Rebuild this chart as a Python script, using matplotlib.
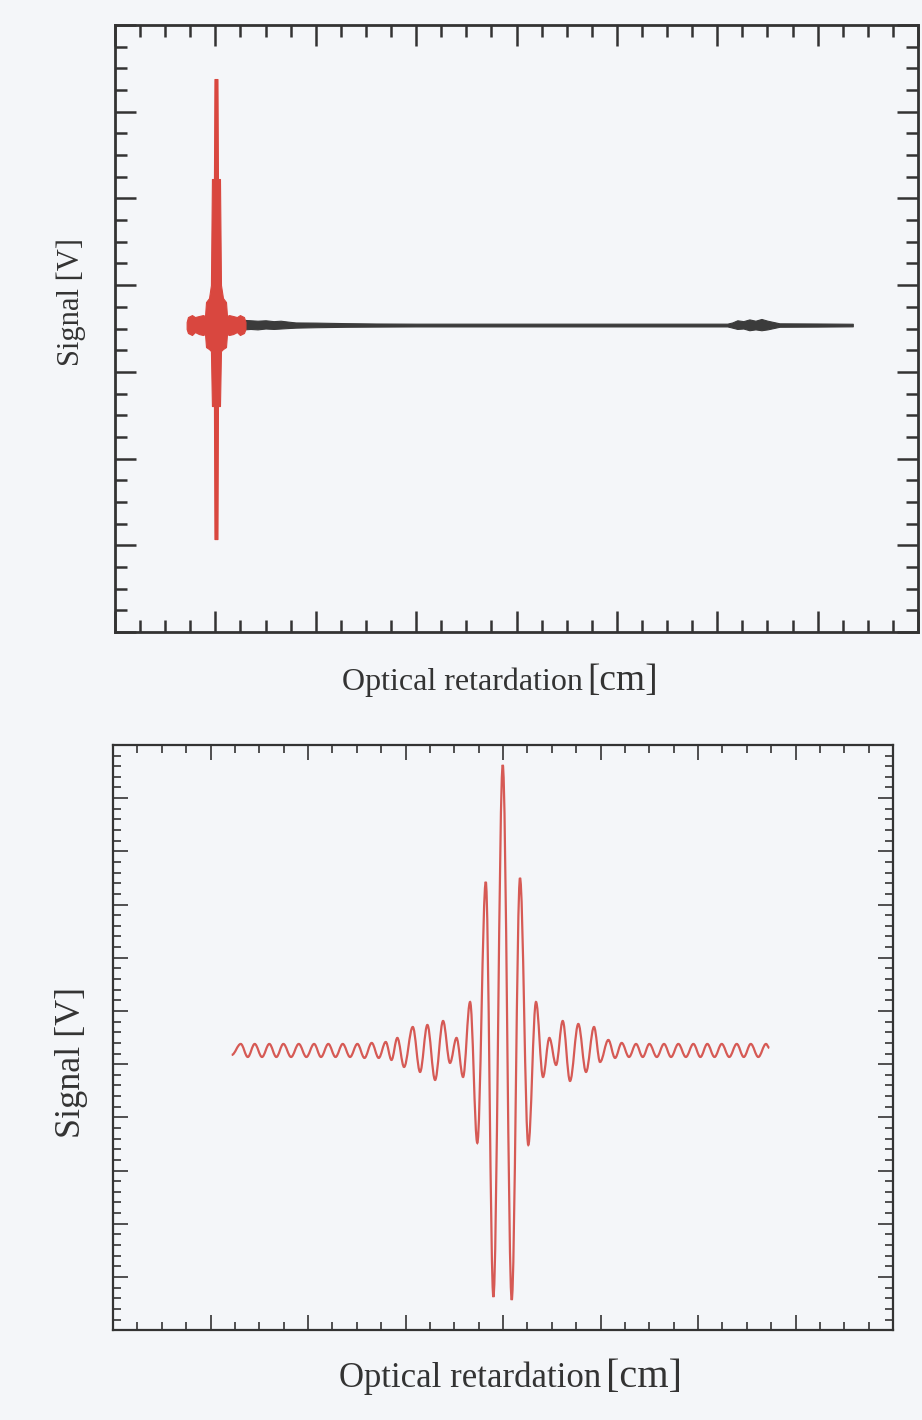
import numpy as np
import matplotlib
matplotlib.use('Agg')
import matplotlib.pyplot as plt
from matplotlib.path import Path
from matplotlib.patches import PathPatch
from matplotlib.ticker import FixedLocator, MultipleLocator

# ---------------- top panel: full interferogram (envelope) ----
burst_x = [0.714, 0.727, 0.767, 0.797, 0.837, 0.877, 0.897, 0.907, 0.937, 0.956,
           0.966, 0.986, 0.991, 1.021, 1.026, 1.046, 1.056, 1.076, 1.106, 1.116,
           1.136, 1.176, 1.215, 1.245, 1.285, 1.300]
burst_hi = [0.035, 0.092, 0.115, 0.092, 0.104, 0.115, 0.104, 0.265, 0.311, 0.461,
            1.684, 1.684, 2.837, 2.837, 1.684, 1.684, 0.461, 0.311, 0.265, 0.104,
            0.115, 0.104, 0.092, 0.115, 0.092, 0.035]
burst_lo = [-0.046, -0.092, -0.115, -0.081, -0.104, -0.115, -0.104, -0.254, -0.277, -0.300,
            -0.934, -0.934, -2.468, -2.468, -0.934, -0.934, -0.300, -0.277, -0.254, -0.104,
            -0.115, -0.104, -0.081, -0.115, -0.092, -0.046]

tail_x = [1.28, 1.35, 1.42, 1.50, 1.58, 1.65, 1.72, 1.80, 2.00, 2.30, 2.60, 3.00,
          4.00, 5.00, 6.10, 6.15, 6.20, 6.26, 6.32, 6.38, 6.44, 6.50, 6.56, 6.62,
          7.00, 7.35]
tail_hi = [0.060, 0.055, 0.050, 0.055, 0.045, 0.050, 0.040, 0.030, 0.028, 0.022,
           0.018, 0.016, 0.016, 0.016, 0.016, 0.030, 0.055, 0.045, 0.065, 0.050,
           0.070, 0.050, 0.035, 0.020, 0.018, 0.015]
tail_lo = [-0.050, -0.045, -0.050, -0.040, -0.045, -0.040, -0.035, -0.030, -0.025, -0.020,
           -0.018, -0.016, -0.016, -0.016, -0.016, -0.030, -0.045, -0.040, -0.060, -0.050,
           -0.060, -0.050, -0.035, -0.020, -0.018, -0.015]

# ---------------- bottom panel: zoom on centre burst (extrema) --
zoom_x = [1.217, 1.310, 1.382, 1.453, 1.528, 1.603, 1.675, 1.747, 1.826, 1.905,
          1.983, 2.062, 2.133, 2.208, 2.282, 2.356, 2.431, 2.506, 2.579, 2.653,
          2.725, 2.797, 2.856, 2.916, 2.985, 3.074, 3.149, 3.224, 3.303, 3.385,
          3.456, 3.523, 3.590, 3.662, 3.736, 3.823, 3.901, 3.997, 4.089, 4.174,
          4.259, 4.338, 4.410, 4.475, 4.544, 4.612, 4.687, 4.772, 4.851, 4.933,
          4.995, 5.080, 5.149, 5.217, 5.292, 5.364, 5.433, 5.501, 5.577, 5.651,
          5.723, 5.798, 5.875, 5.952, 6.024, 6.095, 6.169, 6.243, 6.320, 6.397,
          6.469, 6.541, 6.618, 6.697, 6.731]
zoom_y = [-0.094, 0.113, -0.132, 0.113, -0.132, 0.113, -0.132, 0.113, -0.132, 0.113,
          -0.132, 0.113, -0.132, 0.113, -0.132, 0.113, -0.132, 0.113, -0.150, 0.132,
          -0.150, 0.150, -0.188, 0.226, -0.320, 0.432, -0.414, 0.470, -0.564, 0.545,
          -0.244, 0.226, -0.508, 0.902, -1.748, 3.158, -4.643, 5.357, -4.699, 3.233,
          -1.786, 0.902, -0.508, 0.226, -0.282, 0.545, -0.583, 0.489, -0.414, 0.432,
          -0.226, 0.188, -0.150, 0.132, -0.132, 0.113, -0.132, 0.113, -0.132, 0.113,
          -0.132, 0.113, -0.132, 0.113, -0.132, 0.113, -0.132, 0.113, -0.132, 0.113,
          -0.132, 0.113, -0.132, 0.113, 0.038]

RED = '#d9473f'
RED2 = '#d65a55'
DARK = '#3b3b3b'
FRAME = '#333333'
BG = '#f4f6f9'
SERIF = ['Liberation Serif', 'DejaVu Serif']

fig = plt.figure(figsize=(9.22, 14.2), dpi=100)
fig.patch.set_facecolor(BG)

ax1 = fig.add_axes([0.1247, 0.5549, 0.8710, 0.4275])
ax2 = fig.add_axes([0.1226, 0.0634, 0.8460, 0.4120])

# --- top panel
ax1.set_facecolor(BG)
ax1.fill_between(tail_x, tail_lo, tail_hi, color=DARK, lw=0.8, zorder=2)
ax1.fill_between(burst_x, burst_lo, burst_hi, color=RED, lw=0.8, zorder=3)
ax1.set_xlim(0, 8)
y1top, y1bot = 3.46, -3.54
ax1.set_ylim(y1bot, y1top)
ax1.xaxis.set_major_locator(MultipleLocator(1))
ax1.xaxis.set_minor_locator(MultipleLocator(0.25))
ax1.yaxis.set_major_locator(FixedLocator(y1top - np.arange(8)))
ax1.yaxis.set_minor_locator(FixedLocator(y1top - 0.25 * np.arange(29)))
ax1.tick_params(which='both', direction='in', top=True, right=True,
                labelbottom=False, labelleft=False, color=FRAME)
ax1.tick_params(which='major', length=15, width=1.8)
ax1.tick_params(which='minor', length=8.5, width=1.8)
for s in ax1.spines.values():
    s.set_linewidth(2.0)
    s.set_color(FRAME)

# --- bottom panel: smooth curve through extrema (horizontal tangents)
verts = [(zoom_x[0], zoom_y[0])]
codes = [Path.MOVETO]
k = 0.36
for i in range(len(zoom_x) - 1):
    x0, y0 = zoom_x[i], zoom_y[i]
    x1, y1 = zoom_x[i + 1], zoom_y[i + 1]
    dx = x1 - x0
    verts += [(x0 + k * dx, y0), (x1 - k * dx, y1), (x1, y1)]
    codes += [Path.CURVE4] * 3
ax2.set_facecolor(BG)
ax2.add_patch(PathPatch(Path(verts, codes), facecolor='none', edgecolor=RED2,
                        lw=1.6, zorder=3))
ax2.set_xlim(0, 8)
y2top, y2bot = 5.733, -5.263
ax2.set_ylim(y2bot, y2top)
ax2.xaxis.set_major_locator(MultipleLocator(1))
ax2.xaxis.set_minor_locator(MultipleLocator(0.25))
ax2.yaxis.set_major_locator(FixedLocator(y2top - np.arange(12)))
ax2.yaxis.set_minor_locator(FixedLocator(y2top - 0.2 * np.arange(56)))
ax2.tick_params(which='both', direction='in', top=True, right=True,
                labelbottom=False, labelleft=False, color=FRAME)
ax2.tick_params(which='major', length=11, width=1.2)
ax2.tick_params(which='minor', length=6, width=1.2)
for s in ax2.spines.values():
    s.set_linewidth(1.6)
    s.set_color(FRAME)

# --- labels
TXT = '#333333'
fig.text(583 / 922, 1 - 690 / 1420, 'Optical retardation', ha='right', va='baseline',
         fontsize=23, family=SERIF, color=TXT)
fig.text(587 / 922, 1 - 690 / 1420, '[cm]', ha='left', va='baseline',
         fontsize=27, family=SERIF, color=TXT)
fig.text(71 / 922, 1 - 302 / 1420, 'Signal [V]', ha='center', va='center',
         rotation=90, fontsize=22, family=SERIF, color=TXT)

fig.text(601 / 922, 1 - 1387 / 1420, 'Optical retardation', ha='right', va='baseline',
         fontsize=25, family=SERIF, color=TXT)
fig.text(606 / 922, 1 - 1387 / 1420, '[cm]', ha='left', va='baseline',
         fontsize=29, family=SERIF, color=TXT)
fig.text(71 / 922, 1 - 1062 / 1420, 'Signal [V]', ha='center', va='center',
         rotation=90, fontsize=26, family=SERIF, color=TXT)

fig.savefig('out.png', dpi=100, facecolor=BG)
